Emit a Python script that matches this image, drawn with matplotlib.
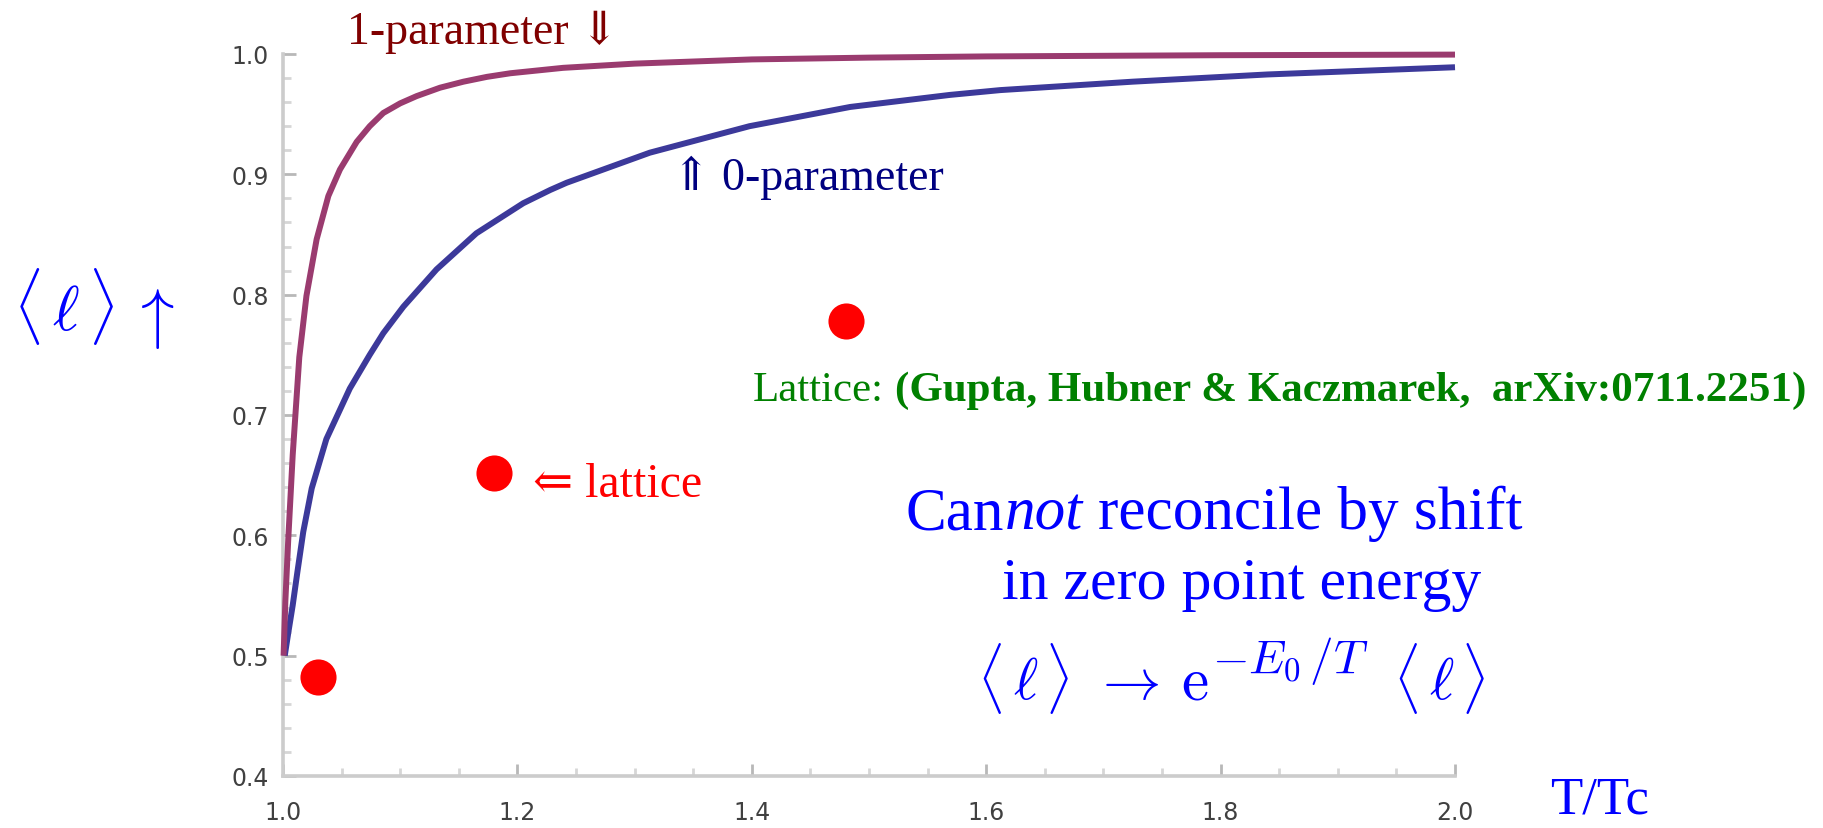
import matplotlib
matplotlib.use("Agg")
import matplotlib.pyplot as plt
from matplotlib.ticker import MultipleLocator, FixedLocator

# ---------------- data ----------------
one_param_x = [1.0005, 1.0020, 1.0045, 1.0083, 1.0139, 1.0200, 1.0287, 1.0387,
               1.0486, 1.0629, 1.0740, 1.0856, 1.1000, 1.1140, 1.1340, 1.1540,
               1.1740, 1.1940, 1.2390, 1.3000, 1.4000, 1.5000, 1.6000, 1.8000,
               2.0000]
one_param_y = [0.500, 0.545, 0.597, 0.667, 0.748, 0.799, 0.846, 0.882,
               0.904, 0.927, 0.940, 0.951, 0.959, 0.965, 0.972, 0.977,
               0.981, 0.984, 0.9885, 0.992, 0.9955, 0.997, 0.998, 0.999,
               0.9995]

zero_param_x = [1.0015, 1.0045, 1.0083, 1.0122, 1.0173, 1.0245, 1.0370, 1.0570,
                1.0740, 1.0856, 1.1027, 1.1310, 1.1650, 1.2050, 1.2280, 1.2420,
                1.3130, 1.3980, 1.4840, 1.5690, 1.6120, 1.7250, 1.8400, 2.0000]
zero_param_y = [0.500, 0.519, 0.542, 0.569, 0.603, 0.639, 0.680, 0.722,
                0.750, 0.768, 0.790, 0.821, 0.851, 0.876, 0.887, 0.893,
                0.918, 0.940, 0.956, 0.966, 0.970, 0.977, 0.983, 0.989]

lattice_x = [1.030, 1.180, 1.480]
lattice_y = [0.482, 0.652, 0.778]

x_ticks = [1.0, 1.2, 1.4, 1.6, 1.8, 2.0]
x_tick_labels = ["1.0", "1.2", "1.4", "1.6", "1.8", "2.0"]
y_ticks = [0.4, 0.5, 0.6, 0.7, 0.8, 0.9, 1.0]
y_tick_labels = ["0.4", "0.5", "0.6", "0.7", "0.8", "0.9", "1.0"]

# ---------------- figure ----------------
W, H = 1823, 829
plt.rcParams["mathtext.fontset"] = "cm"
fig = plt.figure(figsize=(W / 100, H / 100), dpi=100)
ax = fig.add_axes([283 / W, 1 - 777 / H, (1455 - 283) / W, (777 - 55) / H])

ax.plot(zero_param_x, zero_param_y, color="#3c399a", lw=4.3, clip_on=False,
        solid_capstyle="butt", solid_joinstyle="round", zorder=3)
ax.plot(one_param_x, one_param_y, color="#9a3b6f", lw=4.3, clip_on=False,
        solid_capstyle="butt", solid_joinstyle="round", zorder=4)
ax.plot(lattice_x, lattice_y, "o", ms=26, color="#ff0000", mec="none",
        clip_on=False, zorder=5)

ax.set_xlim(1.0, 2.0)
ax.set_ylim(0.4, 1.0)
for s in ("top", "right"):
    ax.spines[s].set_visible(False)
for s in ("left", "bottom"):
    ax.spines[s].set_color("#cccccc")
    ax.spines[s].set_linewidth(2.6)

ax.xaxis.set_major_locator(FixedLocator(x_ticks))
ax.set_xticklabels(x_tick_labels)
ax.yaxis.set_major_locator(FixedLocator(y_ticks))
ax.set_yticklabels(y_tick_labels)
ax.xaxis.set_minor_locator(MultipleLocator(0.05))
ax.yaxis.set_minor_locator(MultipleLocator(0.02))
ax.tick_params(which="major", direction="in", length=9, width=2.0,
               color="#b8b8b8", labelsize=17, labelcolor="#404040")
ax.tick_params(which="minor", direction="in", length=6, width=2.0,
               color="#d6d6d6")
ax.tick_params(axis="x", which="major", pad=17)
ax.tick_params(axis="y", which="major", pad=10)

serif = ["Liberation Serif", "DejaVu Serif", "DejaVu Sans"]
renderer = fig.canvas.get_renderer()


def ftext(x_px, y_px, s, **kw):
    return fig.text(x_px / W, 1 - y_px / H, s, ha="left", va="baseline", **kw)


def runs(x_px, y_px, pieces, color, family=serif):
    """pieces: (string, size, extra kwargs, gap before [px], baseline raise [px])"""
    x = x_px
    for s, size, kw, gap, rise in pieces:
        x += gap
        t = ftext(x, y_px - rise, s, family=family, size=size, color=color, **kw)
        x = t.get_window_extent(renderer).x1


ftext(347, 44, "1-parameter \u21d3", family=serif, size=33, color="#800000")
ftext(672, 190, "\u21d1 0-parameter", family=serif, size=33, color="#000080")
ftext(533, 497, "\u21d0 lattice", family=serif, size=34.5, color="#ff0000")
ftext(1550, 814, "T/Tc", family=serif, size=38, color="#0000ff")

runs(753, 401, [("Lattice:", 31, {}, 0, 0),
                ("(Gupta, Hubner & Kaczmarek,  arXiv:0711.2251)", 31,
                 {"weight": "bold"}, 11, 0)], color="#008000")

runs(905, 529, [("Can", 44, {}, 0, 0),
                ("not", 44, {"style": "italic"}, 1, 0),
                ("reconcile by shift", 44, {}, 15, 0)], color="#0000ff")
ftext(1002, 599, "in zero point energy", family=serif, size=43, color="#0000ff")

# formula  <l> -> e^{-E0/T} <l>
runs(977, 700, [(r"$\langle\,\ell\,\rangle$", 42, {}, 0, 0),
                (r"$\rightarrow$", 42, {}, 22, 0),
                (r"$\mathrm{e}$", 44, {}, 22, 0),
                (r"$-E_0\,/T$", 34, {}, 4, 27),
                (r"$\langle\,\ell\,\rangle$", 42, {}, 24, 0)], color="#0000ff")

# y-axis label  <l>  ^
ftext(13, 331, r"$\langle\,\ell\,\rangle$", size=46, color="#0000ff")
ftext(129, 336, r"$\uparrow$", size=48, color="#0000ff")

fig.savefig("out.png", dpi=100)
